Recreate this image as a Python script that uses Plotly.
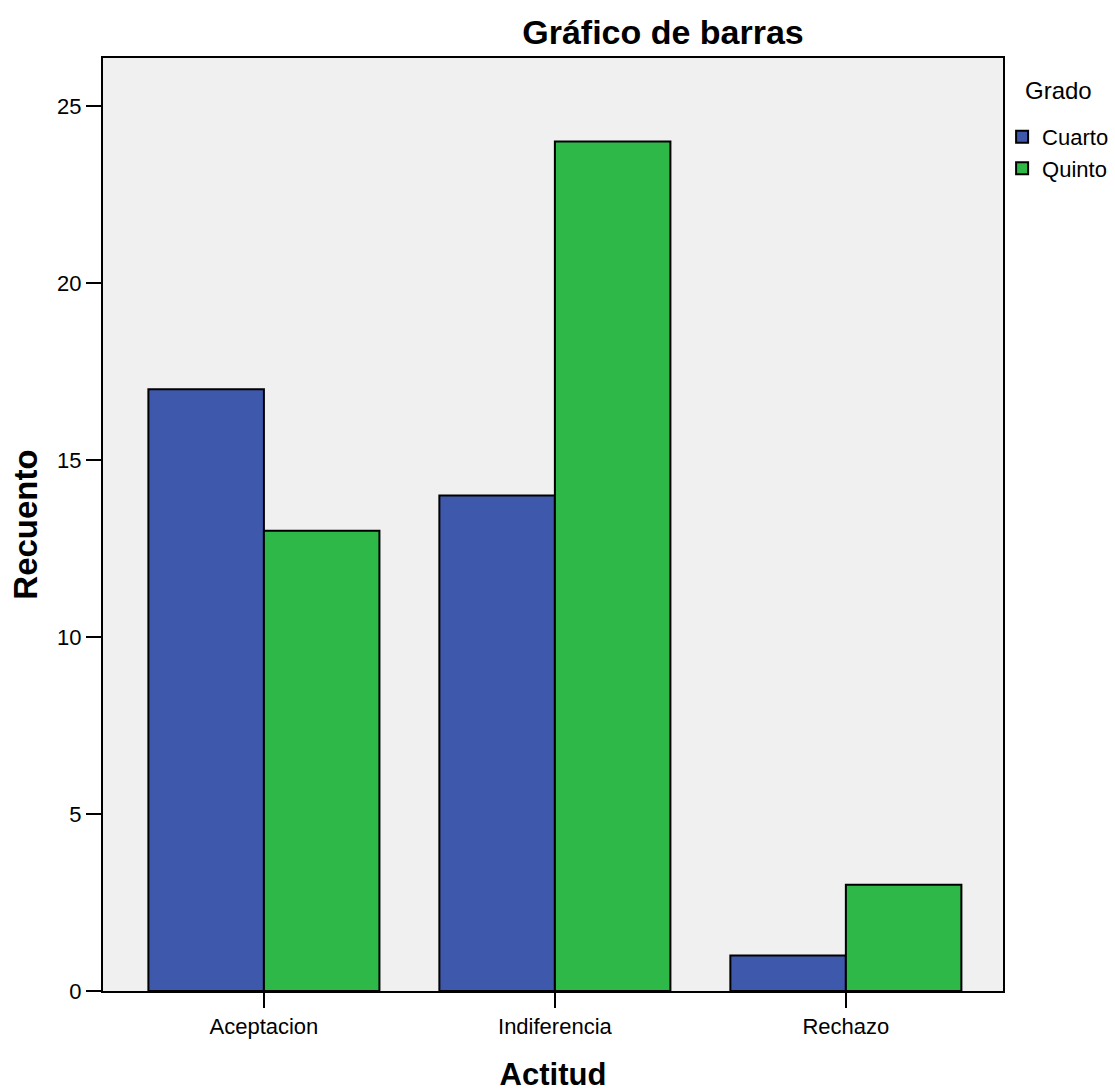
import plotly.graph_objects as go

categories = ["Aceptacion", "Indiferencia", "Rechazo"]
cuarto = [17, 14, 1]
quinto = [13, 24, 3]
y_ticks = [0, 5, 10, 15, 20, 25]

fig = go.Figure()
fig.add_bar(x=categories, y=cuarto, name="Cuarto",
            marker=dict(color="#3E58AC", line=dict(color="black", width=2)))
fig.add_bar(x=categories, y=quinto, name="Quinto",
            marker=dict(color="#2EB848", line=dict(color="black", width=2)))

font = "Liberation Sans, Arial, sans-serif"
fig.update_layout(
    width=1115, height=1092,
    margin=dict(l=103, r=112, t=58, b=101, autoexpand=False),
    paper_bgcolor="white", plot_bgcolor="#F0F0F0",
    barmode="group", bargap=0.206, bargroupgap=0,
    font=dict(family=font, size=22, color="black"),
    title=dict(text="<b>Gráfico de barras</b>", x=663 / 1115, xref="container", xanchor="center",
               y=1 - 32 / 1092, yref="container", yanchor="middle",
               font=dict(size=34, family=font, color="black")),
    legend=dict(x=0.999, xanchor="left", y=0.9379, yanchor="top",
                font=dict(size=22), tracegroupgap=0, itemwidth=30,
                bgcolor="rgba(0,0,0,0)"),
    showlegend=True,
    annotations=[dict(text="Grado", xref="paper", yref="paper",
                      x=(1023 - 103) / 900, y=1 - (90 - 58) / 933,
                      xanchor="left", yanchor="middle", showarrow=False,
                      font=dict(size=24, family=font, color="black"))],
)
fig.update_xaxes(
    range=[-0.553, 2.54], showline=True, mirror=True, linecolor="black", linewidth=2,
    ticks="outside", ticklen=15, tickwidth=2, tickcolor="black",
    tickfont=dict(size=22), showgrid=False, automargin=False,
    title=dict(text="<b>Actitud</b>", font=dict(size=31), standoff=33),
)
fig.update_yaxes(
    range=[0, 26.36], tickvals=y_ticks, showline=True, mirror=True, linecolor="black", linewidth=2,
    ticks="outside", ticklen=15, tickwidth=2, tickcolor="black",
    tickfont=dict(size=22), showgrid=False, zeroline=False, automargin=False,
    title=dict(text="<b>Recuento</b>", font=dict(size=33), standoff=10),
)
fig.write_html("out.html", config={"displayModeBar": False},
               post_script="document.body.style.margin='0';document.body.style.overflow='hidden';")
